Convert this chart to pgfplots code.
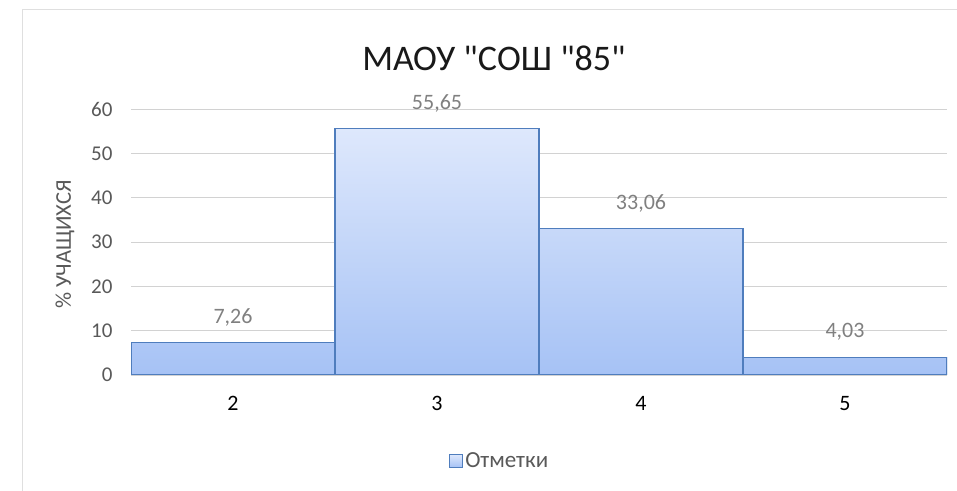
\documentclass[border=0pt]{standalone}
\usepackage{pgfplots}
\pgfplotsset{compat=1.18}
\usepackage{fontspec}
\setmainfont{Carlito}[Ligatures=TeXOff]
\definecolor{barTop}{RGB}{222,232,252}
\definecolor{barBot}{RGB}{166,194,245}
\definecolor{barEdge}{RGB}{79,125,189}
\definecolor{tickgray}{RGB}{89,89,89}
\definecolor{lblgray}{RGB}{128,128,128}
\definecolor{gridgray}{RGB}{210,210,210}
\begin{document}
\begin{tikzpicture}
\useasboundingbox (0,0) rectangle (957bp,491bp);
\fill[white] (0,0) rectangle (957bp,491bp);
\draw[gray!25, line width=1bp] (22.5bp,-5bp) rectangle (965bp,481bp);
\begin{axis}[
  at={(131bp,116bp)}, anchor=south west,
  scale only axis, width=816bp, height=266bp,
  xmin=1.5, xmax=5.5, ymin=0, ymax=60,
  xtick={2,3,4,5}, ytick={0,10,...,60},
  axis line style={draw=none},
  major tick length=0pt,
  ymajorgrids, grid style={gridgray, line width=0.8bp},
  yticklabel style={tickgray, font=\fontsize{21bp}{24bp}\selectfont, xshift=-15bp},
  xticklabel style={black, font=\fontsize{22bp}{25bp}\selectfont, yshift=-18bp},
  /pgf/number format/assume math mode=true,
  ylabel={\% УЧАЩИХСЯ},
  every axis y label/.style={at={(axis description cs:-0.081,0.49)}, rotate=90, anchor=center, text=tickgray, font=\fontsize{22.5bp}{25bp}\selectfont},
  ybar, bar width=204bp,
  nodes near coords={\pgfmathprintnumber[fixed, fixed zerofill, precision=2, use comma, assume math mode=true]{\pgfplotspointmeta}},
  every node near coord/.append style={text=lblgray, font=\fontsize{22bp}{25bp}\selectfont, anchor=center, yshift=25bp},
  legend style={at={(axis description cs:0.452,-0.323)}, anchor=center, draw=none, fill=none,
    font=\fontsize{23bp}{26bp}\selectfont, text=tickgray, /tikz/every even column/.append style={column sep=2bp}},
  legend image code/.code={\draw[barEdge, top color=barTop, bottom color=barBot, line width=0.8bp] (0bp,-6.5bp) rectangle (13bp,6.5bp);},
]
\addplot[draw=barEdge, line width=1.2bp, top color=barTop, bottom color=barBot]
  coordinates {(2,7.26) (3,55.65) (4,33.06) (5,4.03)};
\addlegendentry{Отметки}
\end{axis}
\node[font=\fontsize{36bp}{40bp}\selectfont, text=black!90] at (494bp,433bp) {МАОУ "СОШ "85"};
\end{tikzpicture}
\end{document}
